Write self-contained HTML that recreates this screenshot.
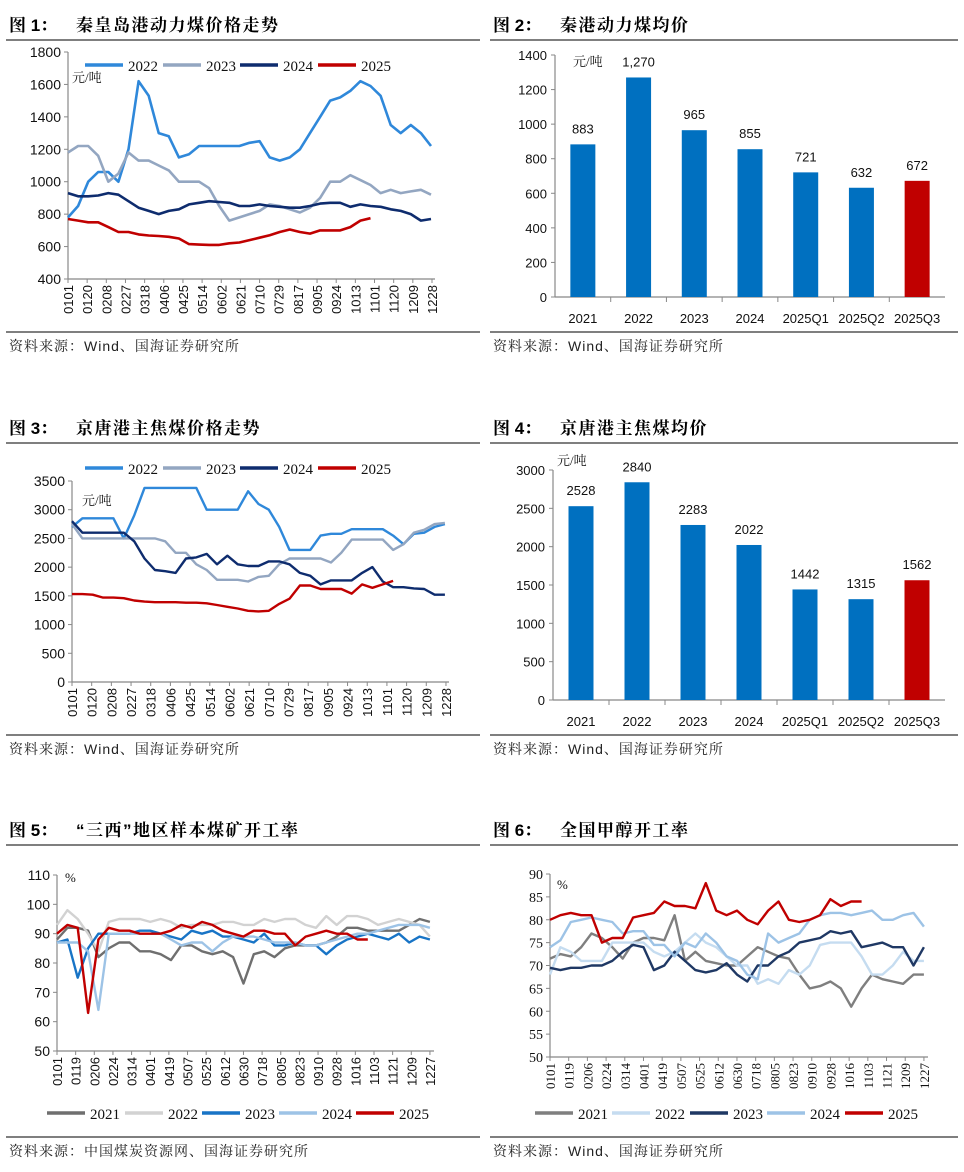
<!DOCTYPE html>
<html><head><meta charset="utf-8">
<style>
body{margin:0;background:#fff;}
svg{display:block;}
.t{font-family:"Liberation Sans","Noto Sans CJK SC",sans-serif;}
.s{font-family:"Liberation Serif","Noto Serif CJK SC",serif;}
.h{font-family:"Liberation Sans","Noto Serif CJK SC",serif;}
</style></head>
<body>
<svg id="fig" width="964" height="1172" viewBox="0 0 964 1172" xmlns="http://www.w3.org/2000/svg"></svg>
<script>
// ---------- data ----------
const ticks1 = ["0101","0120","0208","0227","0318","0406","0425","0514","0602","0621","0710","0729","0817","0905","0924","1013","1101","1120","1209","1228"];
const ticks5 = ["0101","0119","0206","0224","0314","0401","0419","0507","0525","0612","0630","0718","0805","0823","0910","0928","1016","1103","1121","1209","1227"];
const barCats = ["2021","2022","2023","2024","2025Q1","2025Q2","2025Q3"];
const qhdAvg = [883,1270,965,855,721,632,672];
const qhdAvgLabels = ["883","1,270","965","855","721","632","672"];
const jtAvg = [2528,2840,2283,2022,1442,1315,1562];

// chart 1 (10-day samples)
const c1y2022 = [780,850,1000,1060,1060,1000,1200,1620,1530,1300,1280,1150,1170,1220,1220,1220,1220,1220,1240,1250,1150,1130,1150,1200,1300,1400,1500,1520,1560,1620,1590,1530,1350,1300,1350,1300,1220];
const c1y2023 = [1180,1220,1220,1160,1000,1050,1180,1130,1130,1100,1070,1000,1000,1000,960,850,760,780,800,820,860,850,830,810,840,900,1000,1000,1040,1010,980,930,950,930,940,950,920];
const c1y2024 = [930,910,910,915,930,920,880,840,820,800,820,830,860,870,880,875,870,850,850,860,850,845,840,840,850,865,870,870,845,860,850,845,830,820,800,760,770];
const c1y2025 = [770,760,750,750,720,690,690,675,668,665,660,650,615,612,610,610,620,625,640,655,670,690,705,690,680,700,700,700,720,760,775];
// chart 3
const c3y2022 = [2700,2850,2850,2850,2850,2500,2900,3380,3380,3380,3380,3380,3380,3000,3000,3000,3000,3320,3100,3000,2700,2300,2300,2300,2550,2580,2580,2660,2660,2660,2660,2550,2400,2580,2600,2700,2750];
const c3y2023 = [2750,2500,2500,2500,2500,2500,2500,2500,2500,2450,2250,2250,2050,1950,1780,1780,1780,1750,1830,1850,2050,2150,2150,2150,2150,2080,2250,2480,2480,2480,2480,2300,2400,2600,2650,2750,2770];
const c3y2024 = [2800,2600,2600,2600,2600,2600,2450,2150,1950,1930,1900,2150,2170,2230,2050,2200,2050,2020,2020,2100,2100,2050,1900,1850,1700,1770,1770,1770,1900,2000,1750,1650,1650,1630,1620,1520,1520];
const c3y2025 = [1530,1530,1520,1470,1470,1460,1420,1400,1390,1390,1390,1380,1380,1370,1340,1310,1280,1240,1230,1240,1360,1450,1680,1680,1620,1620,1620,1540,1700,1640,1700,1760];
// chart 5
const c5y2021 = [88,92,92,91,82,85,87,87,84,84,83,81,86,86,84,83,84,82,73,83,84,82,85,86,86,86,87,89,92,92,91,91,91,91,93,95,94];
const c5y2022 = [93,98,95,90,84,94,95,95,95,94,95,94,92,93,93,93,94,94,93,93,95,94,95,95,93,92,96,93,96,96,95,93,94,95,94,93,89];
const c5y2023 = [87,88,75,85,90,90,90,90,91,91,90,89,88,91,90,91,89,89,88,87,90,86,86,87,86,86,83,86,88,89,90,89,88,90,87,89,88];
const c5y2024 = [87,87,87,84,64,90,90,90,90,90,90,88,86,87,87,84,87,89,89,89,88,87,87,87,86,86,87,88,89,90,90,91,92,93,93,93,92];
const c5y2025 = [90,93,92,63,88,92,91,91,90,90,90,91,93,92,94,93,91,90,89,91,91,90,90,86,89,90,91,90,90,88,88];
// chart 6
const c6y2021 = [71.5,72.5,72,74,77,76,74,71.5,75,76,76,75.5,81,71,73,71,70.5,70,70,72,74,73,72,71.5,68,65,65.5,66.5,65,61,65,68,67,66.5,66,68,68];
const c6y2022 = [68,74,73,71,71,71,75,75,75,75,73,72,73,75,77,75,74,72,70,70,66,67,66,69,68,70,74.5,75,75,75,72,68,68,70,73,71,71];
const c6y2023 = [69.5,69,69.5,69.5,70,70,71,73,74.5,74,69,70,73,71,69,68.5,69,70.5,68,66.5,70,70,72,73,75,75.5,76,77.5,77,77.5,74,74.5,75,74,74,70,74];
const c6y2024 = [74,75.5,79.5,80,80.5,80,79.5,77,77.5,77.5,74.5,74.5,72,75,74,77,75,72,71,68,67,77,75,76,77,80,81,81.5,81.5,81,81.5,82,80,80,81,81.5,78.5];
const c6y2025 = [80,81,81.5,81,81,75,76,76,80.5,81,81.5,84,83,83,82.5,88,82,81,82,80,79,82,84,80,79.5,80,81,84.5,83,84,84];

// ---------- helpers ----------
const NS="http://www.w3.org/2000/svg";
const svg=document.getElementById('fig');
function mk(tag,attrs,parent){const e=document.createElementNS(NS,tag);for(const k in attrs)e.setAttribute(k,attrs[k]);(parent||svg).appendChild(e);return e;}
function txt(x,y,s,attrs,parent){const e=mk('text',Object.assign({x:x,y:y},attrs),parent);e.textContent=s;return e;}

function panel(g,x0,x1,titleY,ruleY,srcRuleY,num,title,src){
  const t=txt(x0+3,titleY,'图 '+num+'：',{class:'h','font-size':17,'font-weight':'bold',fill:'#000'},g);
  
  
  const tt=txt(x0+70,titleY,title,{class:'h','font-size':17,'font-weight':'bold',fill:'#000','letter-spacing':'1.5'},g);
  
  
  const r1=mk('line',{x1:x0,x2:x1,y1:ruleY,y2:ruleY,stroke:'#555','stroke-width':1.5},g);
  
  
  const r2=mk('line',{x1:x0,x2:x1,y1:srcRuleY,y2:srcRuleY,stroke:'#555','stroke-width':1.5},g);
  
  
  const s=txt(x0+3,srcRuleY+19,src,{class:'h','font-size':14,fill:'#222','letter-spacing':'1'},g);
  
  
}

function lineChart(o){
  const g=mk('g',{});
  
  
  const sx=d=>o.px0+(o.px1-o.px0)*d/o.days;
  const sy=v=>o.py0+(o.py1-o.py0)*(o.ymax-v)/(o.ymax-o.ymin);
  const ya=mk('line',{x1:o.px0,x2:o.px0,y1:o.py0,y2:o.py1,stroke:'#888','stroke-width':1.2},g);
  
  
  const xa=mk('line',{x1:o.px0,x2:o.px1+2,y1:o.py1,y2:o.py1,stroke:'#888','stroke-width':1.2},g);
  
  
  for(let v=o.ymin;v<=o.ymax;v+=o.ystep){
    const y=sy(v);
    mk('line',{x1:o.px0-4,x2:o.px0,y1:y,y2:y,stroke:'#888'},g);
    const l=txt(o.px0-7,y+5,String(v),{class:o.yfont,'font-size':o.yfs,'text-anchor':'end',fill:'#111'},g);
    
    
  }
  o.ticks.forEach((s,i)=>{
    const x=sx(i*o.tstep);
    mk('line',{x1:x,x2:x,y1:o.py1,y2:o.py1+4,stroke:'#888'},g);
    const l=txt(0,0,s,{class:o.xfont,'font-size':o.xfs,'text-anchor':'end',fill:'#111',transform:`translate(${x+5},${o.py1+6}) rotate(-90)`},g);
    
    
  });
  o.series.forEach(se=>{
    const pts=se.v.map((v,i)=>sx(i*o.step).toFixed(1)+','+sy(v).toFixed(1)).join(' ');
    const p=mk('polyline',{points:pts,fill:'none',stroke:se.c,'stroke-width':o.sw,'stroke-linejoin':'round'},g);
    
    
  });
  o.series.forEach((se,i)=>{
    const lx=o.legX[i];
    const ll=mk('line',{x1:lx,x2:lx+38,y1:o.legY,y2:o.legY,stroke:se.c,'stroke-width':3.5},g);
    
    
    const lt=txt(lx+43,o.legY+6,se.n,{class:'s','font-size':15,fill:'#111'},g);
    
    
  });
  const u=txt(o.unitX,o.unitY,o.unit,{class:'s','font-size':13,fill:'#111'},g);
  
  
}

function barChart(o){
  const g=mk('g',{});
  
  
  const sy=v=>o.py1-(o.py1-o.py0)*v/o.ymax;
  const ya=mk('line',{x1:o.px0,x2:o.px0,y1:o.py0,y2:o.py1,stroke:'#888','stroke-width':1.2},g);
  
  
  const xa=mk('line',{x1:o.px0,x2:o.px1,y1:o.py1,y2:o.py1,stroke:'#888','stroke-width':1.2},g);
  
  
  for(let v=0;v<=o.ymax;v+=o.ystep){
    const y=sy(v);
    mk('line',{x1:o.px0-4,x2:o.px0,y1:y,y2:y,stroke:'#888'},g);
    const l=txt(o.px0-8,y+5,String(v),{class:'t','font-size':13,'text-anchor':'end',fill:'#111'},g);
    
    
  }
  const n=o.cats.length, w=(o.px1-o.px0)/n;
  o.cats.forEach((c,i)=>{
    const cx=o.px0+w*(i+0.5);
    if(i>0) mk('line',{x1:o.px0+w*i,x2:o.px0+w*i,y1:o.py1,y2:o.py1+5,stroke:'#888'},g);
    const b=mk('rect',{x:cx-12.5,y:sy(o.vals[i]),width:25,height:o.py1-sy(o.vals[i]),fill:i===n-1?'#C00000':'#0070C0'},g);
    
    
    const vl=txt(cx,sy(o.vals[i])-11,o.labels[i],{class:'t','font-size':13,'text-anchor':'middle',fill:'#111'},g);
    
    
    const cl=txt(cx,o.py1+26,c,{class:'t','font-size':13,'text-anchor':'middle',fill:'#111'},g);
    
    
  });
  const u=txt(o.unitX,o.unitY,'元/吨',{class:'s','font-size':13,fill:'#111'},g);
  
  
}

// ---------- panels ----------
const pg=mk('g',{});


const SRC='资料来源：Wind、国海证券研究所';
panel(pg,6,480,31,40,332,1,'秦皇岛港动力煤价格走势',SRC);
panel(pg,490,958,31,40,332,2,'秦港动力煤均价',SRC);
panel(pg,6,480,434,443,735,3,'京唐港主焦煤价格走势',SRC);
panel(pg,490,958,434,443,735,4,'京唐港主焦煤均价',SRC);
panel(pg,6,480,836,845,1137,5,'“三西”地区样本煤矿开工率','资料来源：中国煤炭资源网、国海证券研究所');
panel(pg,490,958,836,845,1137,6,'全国甲醇开工率',SRC);

const c1col={a:'#2F88DA',b:'#93A6C1',c:'#0E2C6E',d:'#C00000'};
lineChart({name:'chart-qhd-thermal-coal-price',px0:68,px1:433,py0:52,py1:279,ymin:400,ymax:1800,ystep:200,yfont:'t',yfs:14,xfont:'t',xfs:13,
  days:362,step:10,tstep:19,ticks:ticks1,sw:2.6,legY:65,legX:[85,163,240,318],unit:'元/吨',unitX:72,unitY:82,
  series:[{n:'2022',v:c1y2022,c:c1col.a},{n:'2023',v:c1y2023,c:c1col.b},{n:'2024',v:c1y2024,c:c1col.c},{n:'2025',v:c1y2025,c:c1col.d}]});
lineChart({name:'chart-jtg-coking-coal-price',px0:72,px1:447,py0:481,py1:682,ymin:0,ymax:3500,ystep:500,yfont:'t',yfs:14,xfont:'t',xfs:13,
  days:362,step:10,tstep:19,ticks:ticks1,sw:2.4,legY:468,legX:[85,163,240,318],unit:'元/吨',unitX:82,unitY:505,
  series:[{n:'2022',v:c3y2022,c:c1col.a},{n:'2023',v:c3y2023,c:c1col.b},{n:'2024',v:c3y2024,c:c1col.c},{n:'2025',v:c3y2025,c:c1col.d}]});
lineChart({name:'chart-sanxi-mine-operating-rate',px0:57,px1:432,py0:875,py1:1051,ymin:50,ymax:110,ystep:10,yfont:'t',yfs:14,xfont:'t',xfs:13,
  days:362,step:10,tstep:18,ticks:ticks5,sw:2.4,legY:1113,legX:[47,125,202,279,356],unit:'%',unitX:65,unitY:882,
  series:[{n:'2021',v:c5y2021,c:'#6F6F6F'},{n:'2022',v:c5y2022,c:'#D2D2D2'},{n:'2023',v:c5y2023,c:'#1874C6'},{n:'2024',v:c5y2024,c:'#9DC3E6'},{n:'2025',v:c5y2025,c:'#C00000'}]});
lineChart({name:'chart-methanol-operating-rate',px0:550,px1:926,py0:874,py1:1057,ymin:50,ymax:90,ystep:5,yfont:'s',yfs:14,xfont:'s',xfs:13,
  days:362,step:10,tstep:18,ticks:ticks5,sw:2.4,legY:1113,legX:[535,612,690,767,845],unit:'%',unitX:557,unitY:889,
  series:[{n:'2021',v:c6y2021,c:'#7F7F7F'},{n:'2022',v:c6y2022,c:'#C5DCF0'},{n:'2023',v:c6y2023,c:'#1F3864'},{n:'2024',v:c6y2024,c:'#9DC3E6'},{n:'2025',v:c6y2025,c:'#C00000'}]});

barChart({name:'chart-qhd-average-price',px0:555,px1:945,py0:55,py1:297,ymax:1400,ystep:200,cats:barCats,vals:qhdAvg,labels:qhdAvgLabels,unitX:573,unitY:66});
barChart({name:'chart-jtg-average-price',px0:553,px1:945,py0:470,py1:700,ymax:3000,ystep:500,cats:barCats,vals:jtAvg,labels:jtAvg.map(String),unitX:557,unitY:465});
</script>
</body></html>
